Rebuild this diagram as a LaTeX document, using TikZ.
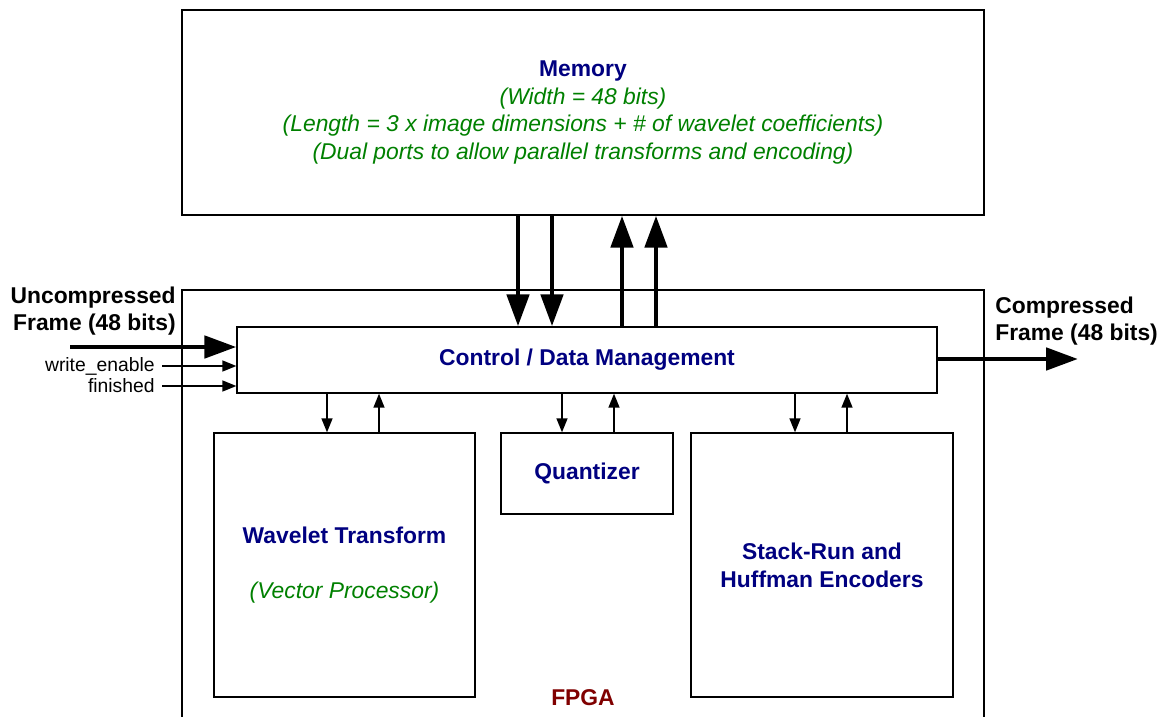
\documentclass[tikz,border=0pt]{standalone}
\usepackage{fontspec}
\setmainfont{Liberation Sans}
\usetikzlibrary{arrows.meta,positioning}
\definecolor{blocknavy}{RGB}{0,0,128}
\definecolor{notegreen}{RGB}{0,128,0}
\definecolor{fpgared}{RGB}{128,0,0}
\newcommand{\greennote}[1]{{\mdseries\itshape\color{notegreen}#1}}
\tikzset{blockstyle/.style = {rectangle, draw, line width=0.8pt, align=center, inner sep=0pt,
		font=\fontsize{13}{15.8}\selectfont\bfseries, text=blocknavy},
	iolabel/.style = {font=\fontsize{13}{15.8}\selectfont\bfseries, inner sep=0pt},
	siglabel/.style = {font=\fontsize{11}{13}\selectfont, inner sep=0pt, anchor=east},
	busarrow/.style = {-{Triangle[length=0.64cm, width=0.44cm]}, line width=2.8pt},
	sigarrow/.style = {-{Triangle[length=0.28cm, width=0.22cm]}, line width=0.85pt}}

\begin{document}
\begin{tikzpicture}[x=0.02cm, y=-0.02cm]
 \useasboundingbox (0,0) rectangle (1168,716);

 % memory
 \node (memory) at (583,112.5) [blockstyle, minimum width=16.04cm, minimum height=4.1cm]
  {Memory\\ \greennote{(Width = 48 bits)}\\
   \greennote{(Length = 3 x image dimensions + \# of wavelet coefficients)}\\
   \greennote{(Dual ports to allow parallel transforms and encoding)}};

 % fpga outline, open at the bottom
 \draw[line width=0.8pt] (182,720) -- (182,290) -- (984,290) -- (984,720);
 \node (fpga) at (583,698) [iolabel, text=fpgared] {FPGA};

 \node (control) at (587,360) [blockstyle, minimum width=14cm, minimum height=1.32cm] {Control / Data Management};
 \node (wavelet) at (344.5,565) [blockstyle, minimum width=5.22cm, minimum height=5.28cm]
  {Wavelet Transform\\[0.54cm] \greennote{(Vector Processor)}};
 \node (quantizer) at (587,473.5) [blockstyle, minimum width=3.44cm, minimum height=1.62cm] {Quantizer};
 \node (encoders) at (822,565) [blockstyle, minimum width=5.24cm, minimum height=5.28cm]
  {Stack-Run and\\ Huffman Encoders};

 % memory bus
 \foreach \x in {518,552}
  \draw[busarrow] (\x,0 |- memory.south) -- (\x,0 |- control.north);
 \foreach \x in {622,656}
  \draw[busarrow] (\x,0 |- control.north) -- (\x,0 |- memory.south);

 % control <-> units
 \foreach \x/\unit in {327/wavelet,562/quantizer,795/encoders}
  \draw[sigarrow] (\x,0 |- control.south) -- (\x,0 |- \unit.north);
 \foreach \x/\unit in {379/wavelet,614/quantizer,847/encoders}
  \draw[sigarrow] (\x,0 |- \unit.north) -- (\x,0 |- control.south);

 % inputs
 \node (inlabel) at (176,311) [iolabel, anchor=east, align=right] {Uncompressed\\ Frame (48 bits)};
 \coordinate (infree) at (70,347);
 \draw[busarrow] (infree) -- (infree -| control.west);
 \node (wrenable) at (155,366) [siglabel] {write\_enable};
 \node (finished) at (155,386) [siglabel] {finished};
 \draw[sigarrow] ([xshift=0.14cm]wrenable.east) -- (wrenable.east -| control.west);
 \draw[sigarrow] ([xshift=0.14cm]finished.east) -- (finished.east -| control.west);

 % output
 \node (outlabel) at (995,321) [iolabel, anchor=west, align=left] {Compressed\\ Frame (48 bits)};
 \coordinate (outfree) at (1078,359);
 \draw[busarrow] (control.east |- outfree) -- (outfree);

\end{tikzpicture}
\end{document}
